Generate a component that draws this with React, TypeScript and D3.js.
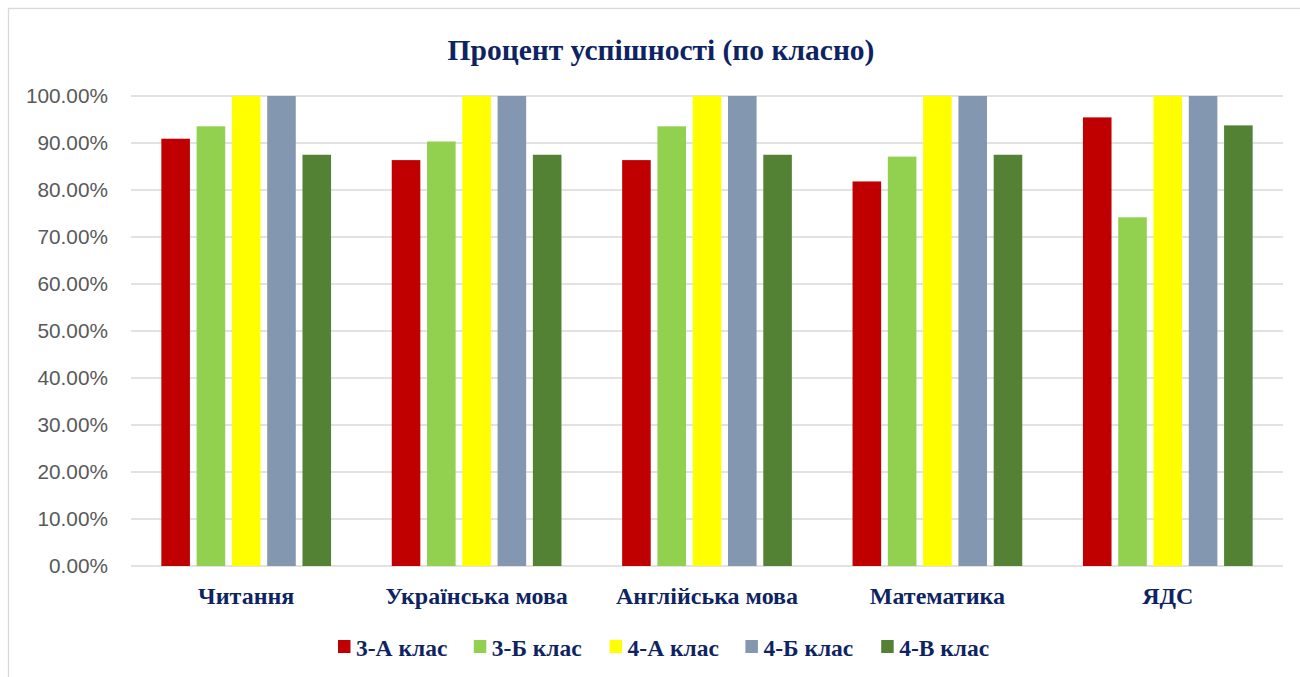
import { useMemo } from "react";
import * as d3 from "d3";

const categories = ["Читання", "Українська мова", "Англійська мова", "Математика", "ЯДС"];
const seriesNames = ["3-А клас", "3-Б клас", "4-А клас", "4-Б клас", "4-В клас"];
const seriesColors = ["#C00000", "#92D050", "#FFFF00", "#8497B0", "#548235"];

// one array per class, in category order
const class3A = [0.9091, 0.8636, 0.8636, 0.8182, 0.9545];
const class3B = [0.9355, 0.9032, 0.9355, 0.871, 0.7419];
const class4A = [1, 1, 1, 1, 1];
const class4B = [1, 1, 1, 1, 1];
const class4V = [0.875, 0.875, 0.875, 0.875, 0.9375];
const seriesValues = [class3A, class3B, class4A, class4B, class4V];

const yTicks = [0, 0.1, 0.2, 0.3, 0.4, 0.5, 0.6, 0.7, 0.8, 0.9, 1];

const navy = "#0E2462";
const gridColor = "#D9D9D9";

export default function App() {
    const width = 1300;
    const height = 677;
    const left = 131;
    const right = 1283;
    const top = 96;
    const bottom = 566;

    const x0 = useMemo(
        () => d3.scaleBand<string>().domain(categories).range([left, right]).padding(0),
        []
    );
    const x1 = useMemo(
        () =>
            d3
                .scaleBand<string>()
                .domain(seriesNames)
                .range([0, x0.bandwidth()])
                .paddingInner(0.19)
                .paddingOuter(0.86),
        [x0]
    );
    const y = d3.scaleLinear().domain([0, 1]).range([bottom, top]);
    const fmt = d3.format(".2%");

    // legend items laid out on a band scale
    const legendX = d3.scaleBand<string>().domain(seriesNames).range([338, 1017]);

    return (
        <svg
            width={width}
            height={height}
            style={{ position: "absolute", left: 0, top: 0, background: "#fff" }}
        >
            {/* chart frame */}
            <rect x={8.5} y={8.5} width={1400} height={800} fill="#fff" stroke={gridColor} strokeWidth={1.3} />

            <text
                x={661}
                y={60}
                textAnchor="middle"
                fontFamily="'Liberation Serif', 'Times New Roman', serif"
                fontWeight="bold"
                fontSize={29.5}
                fill={navy}
            >
                Процент успішності (по класно)
            </text>

            {/* gridlines + y labels */}
            {yTicks.map((t) => (
                <g key={t}>
                    <line x1={left} x2={right} y1={y(t)} y2={y(t)} stroke={gridColor} strokeWidth={1.5} />
                    <text
                        x={108}
                        y={y(t)}
                        dy="0.36em"
                        textAnchor="end"
                        fontFamily="'Liberation Sans', Arial, sans-serif"
                        fontSize={20.8}
                        fill="#595959"
                    >
                        {fmt(t)}
                    </text>
                </g>
            ))}

            {/* bars */}
            {categories.map((c, ci) => (
                <g key={c} transform={`translate(${x0(c)},0)`}>
                    {seriesNames.map((s, si) => {
                        const v = seriesValues[si][ci];
                        return (
                            <rect
                                key={s}
                                x={x1(s)}
                                y={y(v)}
                                width={x1.bandwidth()}
                                height={y(0) - y(v)}
                                fill={seriesColors[si]}
                            />
                        );
                    })}
                </g>
            ))}

            {/* category labels */}
            {categories.map((c) => (
                <text
                    key={c}
                    x={(x0(c) ?? 0) + x0.bandwidth() / 2}
                    y={604}
                    textAnchor="middle"
                    fontFamily="'Liberation Serif', 'Times New Roman', serif"
                    fontWeight="bold"
                    fontSize={24}
                    fill={navy}
                >
                    {c}
                </text>
            ))}

            {/* legend */}
            {seriesNames.map((s, i) => (
                <g key={s} transform={`translate(${legendX(s)},640)`}>
                    <rect x={0} y={0} width={12.5} height={13} fill={seriesColors[i]} />
                    <text
                        x={18}
                        y={16}
                        fontFamily="'Liberation Serif', 'Times New Roman', serif"
                        fontWeight="bold"
                        fontSize={23.5}
                        fill={navy}
                    >
                        {s}
                    </text>
                </g>
            ))}
        </svg>
    );
}
